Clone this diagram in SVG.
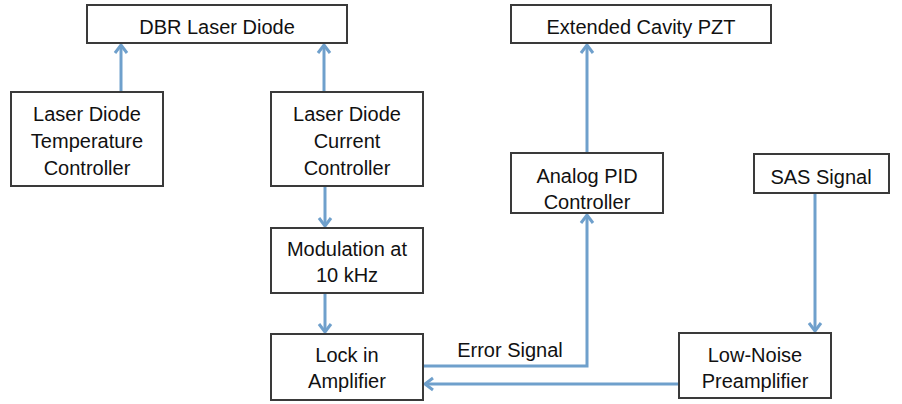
<svg xmlns="http://www.w3.org/2000/svg" width="902" height="404" viewBox="0 0 902 404">
<style>
.box{fill:#fff;stroke:#3a3a3a;stroke-width:2}
.t{font-family:"Liberation Sans",Arial,sans-serif;font-size:20px;fill:#111;text-anchor:middle}
.c{fill:none;stroke:#6fa0cc;stroke-width:3}
</style>
<defs>
<marker id="ah" markerUnits="userSpaceOnUse" markerWidth="16" markerHeight="16" refX="12" refY="8" orient="auto">
<polyline points="4,2 12,8 4,14" fill="none" stroke="#6fa0cc" stroke-width="3"/>
</marker>
</defs>
<rect width="902" height="404" fill="#fff"/>
<g id="connectors">
<line class="c" x1="121" y1="92" x2="121" y2="45" marker-end="url(#ah)"/>
<line class="c" x1="324" y1="92" x2="324" y2="45" marker-end="url(#ah)"/>
<line class="c" x1="325" y1="186" x2="325" y2="226" marker-end="url(#ah)"/>
<line class="c" x1="325" y1="293" x2="325" y2="332" marker-end="url(#ah)"/>
<line class="c" x1="587" y1="153" x2="587" y2="45" marker-end="url(#ah)"/>
<polyline class="c" points="423,366 587,366 587,215" marker-end="url(#ah)"/>
<line class="c" x1="815" y1="193" x2="815" y2="331" marker-end="url(#ah)"/>
<line class="c" x1="679" y1="384" x2="425" y2="384" marker-end="url(#ah)"/>
<text class="t" x="510" y="357">Error Signal</text>
</g>
<g id="dbr"><rect class="box" x="87" y="5" width="260" height="38"/><text class="t" x="217" y="34">DBR Laser Diode</text></g>
<g id="temp"><rect class="box" x="11" y="92" width="152" height="94"/><text class="t" x="87" y="121">Laser Diode</text><text class="t" x="87" y="148">Temperature</text><text class="t" x="87" y="175">Controller</text></g>
<g id="current"><rect class="box" x="271" y="92" width="152" height="94"/><text class="t" x="347" y="121">Laser Diode</text><text class="t" x="347" y="148">Current</text><text class="t" x="347" y="175">Controller</text></g>
<g id="mod"><rect class="box" x="271" y="228" width="152" height="65"/><text class="t" x="347" y="256">Modulation at</text><text class="t" x="347" y="282">10 kHz</text></g>
<g id="lockin"><rect class="box" x="271" y="334" width="152" height="66"/><text class="t" x="347" y="362">Lock in</text><text class="t" x="347" y="388">Amplifier</text></g>
<g id="pzt"><rect class="box" x="511" y="5" width="260" height="38"/><text class="t" x="641" y="34">Extended Cavity PZT</text></g>
<g id="pid"><rect class="box" x="511" y="153" width="152" height="60"/><text class="t" x="587" y="183">Analog PID</text><text class="t" x="587" y="209">Controller</text></g>
<g id="sas"><rect class="box" x="754" y="154" width="135" height="39"/><text class="t" x="821" y="184">SAS Signal</text></g>
<g id="preamp"><rect class="box" x="679" y="333" width="152" height="65"/><text class="t" x="755" y="362">Low-Noise</text><text class="t" x="755" y="388">Preamplifier</text></g>
</svg>
